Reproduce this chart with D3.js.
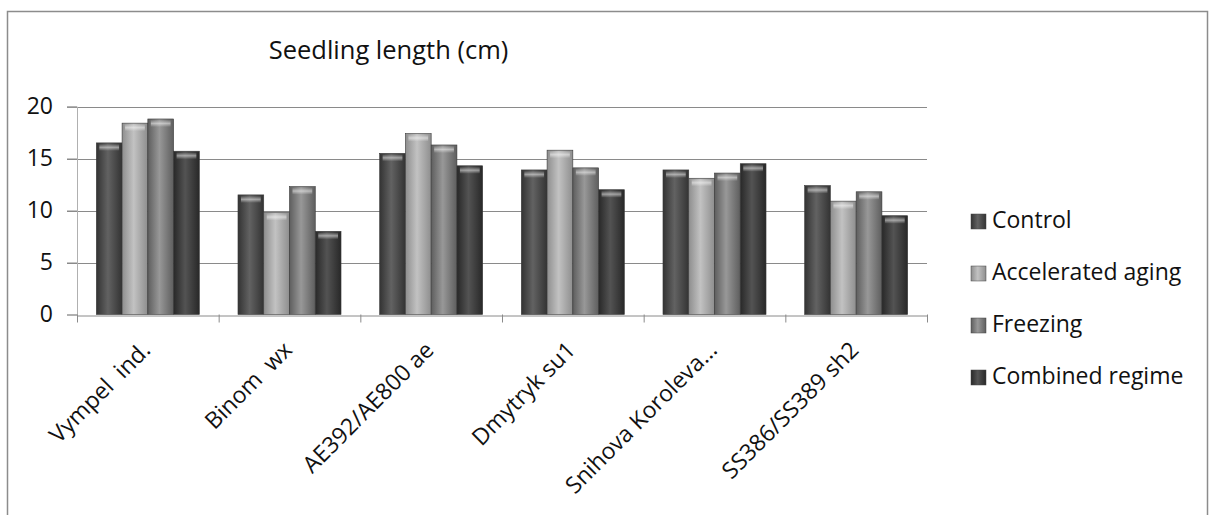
<!DOCTYPE html>
<html>
<head>
<meta charset="utf-8">
<script src="https://cdn.jsdelivr.net/npm/d3@7"></script>
<style>
  html, body { margin: 0; padding: 0; background: #fff; }
  svg { display: block; }
  text { font-family: "Open Sans", "Noto Sans", sans-serif; fill: #111; }
</style>
</head>
<body>
<svg id="chart" width="1211" height="515"></svg>
<script>
// Seedling length (cm) per maize line under four treatments
const categories = ["Vympel  ind.", "Binom  wx", "AE392/AE800 ae", "Dmytryk su1", "Snihova Koroleva...", "SS386/SS389 sh2"];
const seriesNames = ["Control", "Accelerated aging", "Freezing", "Combined regime"];
const control     = [16.5, 11.5, 15.5, 13.9, 13.9, 12.4];
const accelerated = [18.4,  9.8, 17.4, 15.8, 13.1, 10.9];
const freezing    = [18.8, 12.3, 16.3, 14.1, 13.6, 11.8];
const combined    = [15.7,  8.0, 14.3, 12.0, 14.5,  9.5];
const yTicks = [0, 5, 10, 15, 20];

const seriesValues = [control, accelerated, freezing, combined];
const seriesShades = [
  { edge: "#333333", mid: "#626262" },
  { edge: "#8e8e8e", mid: "#c2c2c2" },
  { edge: "#5e5e5e", mid: "#989898" },
  { edge: "#282828", mid: "#535353" }
];

const svg = d3.select("#chart");
const plot = { left: 77, right: 927, top: 106.5, bottom: 314.5 };

const x = d3.scaleBand().domain(categories).range([plot.left, plot.right]).paddingInner(0).paddingOuter(0);
const xInner = d3.scaleBand().domain(seriesNames).range([0, x.bandwidth()]).paddingOuter(0.75).paddingInner(0);
const y = d3.scaleLinear().domain([0, 20]).range([plot.bottom, plot.top]);

// bar shading: darker edges, lighter centre
const defs = svg.append("defs");
seriesShades.forEach((s, i) => {
  const g = defs.append("linearGradient").attr("id", "g" + i).attr("x1", 0).attr("x2", 1).attr("y1", 0).attr("y2", 0);
  g.append("stop").attr("offset", "0%").attr("stop-color", s.edge);
  g.append("stop").attr("offset", "45%").attr("stop-color", s.mid);
  g.append("stop").attr("offset", "100%").attr("stop-color", s.edge);
});
const cap = defs.append("linearGradient").attr("id", "cap").attr("x1", 0).attr("x2", 0).attr("y1", 0).attr("y2", 1);
cap.append("stop").attr("offset", "0%").attr("stop-color", "#fff").attr("stop-opacity", 0);
cap.append("stop").attr("offset", "50%").attr("stop-color", "#fff").attr("stop-opacity", 0.5);
cap.append("stop").attr("offset", "100%").attr("stop-color", "#fff").attr("stop-opacity", 0);

// outer frame
svg.append("rect").attr("x", 7.5).attr("y", 11.5).attr("width", 1200).attr("height", 520)
  .attr("fill", "none").attr("stroke", "#8c8c8c").attr("stroke-width", 1.5);

// title
svg.append("text").attr("x", 388.5).attr("y", 59).attr("text-anchor", "middle")
  .style("font-size", "25.5px").text("Seedling length (cm)");

// gridlines
svg.append("g").selectAll("line").data(yTicks.filter(t => t > 0)).join("line")
  .attr("x1", plot.left - 10).attr("x2", plot.right)
  .attr("y1", d => Math.round(y(d)) + 0.5).attr("y2", d => Math.round(y(d)) + 0.5)
  .attr("stroke", "#8a8a8a").attr("stroke-width", 1);

// y axis
const yAxis = svg.append("g").attr("transform", `translate(${plot.left},0)`)
  .call(d3.axisLeft(y).tickValues(yTicks).tickSize(10).tickPadding(14));
yAxis.select(".domain").attr("stroke", "#b0b0b0");
yAxis.selectAll(".tick line").attr("stroke", "#8a8a8a");
yAxis.selectAll(".tick text").style("font-size", "23px").attr("fill", "#111")
  .style("font-family", "'Open Sans', sans-serif");

// bars
const groups = svg.append("g").selectAll("g").data(categories).join("g")
  .attr("transform", d => `translate(${x(d)},0)`);
groups.each(function(cat, ci) {
  const gsel = d3.select(this);
  seriesNames.forEach((s, si) => {
    const v = seriesValues[si][ci];
    const bx = xInner(s), bw = xInner.bandwidth();
    gsel.append("rect").attr("x", bx).attr("y", y(v)).attr("width", bw).attr("height", y(0) - y(v))
      .attr("fill", `url(#g${si})`).attr("stroke", "#3a3a3a").attr("stroke-width", 0.6);
    gsel.append("rect").attr("x", bx + 3).attr("y", y(v) + 1).attr("width", bw - 6).attr("height", 7)
      .attr("fill", "url(#cap)");
  });
});

// x axis
const xAxis = svg.append("g").attr("transform", `translate(0,${Math.round(plot.bottom) + 0.5})`)
  .call(d3.axisBottom(x).tickSize(0).tickFormat(""));
xAxis.select(".domain").attr("stroke", "#8a8a8a");
svg.append("g").selectAll("line").data(d3.range(categories.length + 1)).join("line")
  .attr("x1", i => plot.left + i * x.bandwidth() + 0.5).attr("x2", i => plot.left + i * x.bandwidth() + 0.5)
  .attr("y1", plot.bottom).attr("y2", plot.bottom + 8).attr("stroke", "#8a8a8a");

// rotated category labels
svg.append("g").selectAll("text").data(categories).join("text")
  .attr("transform", d => `translate(${x(d) + x.bandwidth() / 2 + 4},${plot.bottom + 37}) rotate(-45)`)
  .attr("text-anchor", "end").style("font-size", "23px").style("white-space", "pre")
  .text(d => d);

// legend
const legend = svg.append("g").selectAll("g").data(seriesNames).join("g")
  .attr("transform", (d, i) => `translate(971,${228 + i * 52})`);
legend.append("rect").attr("x", 0).attr("y", -14).attr("width", 15).attr("height", 15)
  .attr("fill", (d, i) => `url(#g${i})`).attr("stroke", "#444").attr("stroke-width", 0.5);
legend.append("text").attr("x", 21).attr("y", 0).style("font-size", "23px").text(d => d);
</script>
</body>
</html>
